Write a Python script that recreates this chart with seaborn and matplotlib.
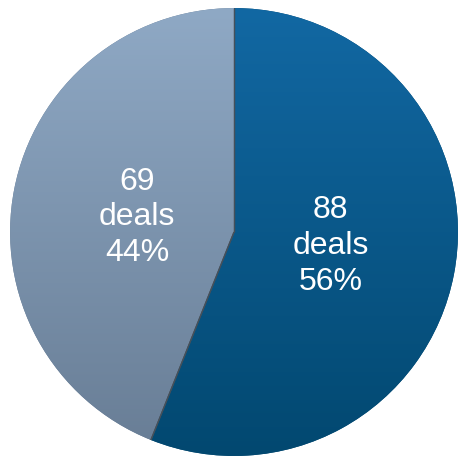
import numpy as np
import matplotlib
matplotlib.use("Agg")
import matplotlib.pyplot as plt
import seaborn as sns
from matplotlib.colors import LinearSegmentedColormap

sns.set_theme(style="white")
plt.rcParams["font.family"] = ["Liberation Sans", "DejaVu Sans"]

# Deal counts per segment
segments = ["Segment A", "Segment B"]
deals = [88, 69]
shares = [56, 44]

# top / bottom shades of each slice
top_colors = ["#1268a3", "#8fa9c5"]
bottom_colors = ["#024870", "#687d95"]

fig = plt.figure(figsize=(4.6, 4.62), dpi=100)
ax = fig.add_axes([0, 0, 1, 1])

wedges, _ = ax.pie(
    deals,
    startangle=90,
    counterclock=False,
    colors=bottom_colors,
    radius=1.0,
    wedgeprops=dict(edgecolor="none", linewidth=0),
)

# vertical shading inside each slice
grad = np.linspace(0, 1, 256).reshape(-1, 1)
for w, ct, cb in zip(wedges, top_colors, bottom_colors):
    cmap = LinearSegmentedColormap.from_list("shade", [ct, cb])
    im = ax.imshow(grad, cmap=cmap, extent=[-1, 1, -1, 1], aspect="auto",
                   origin="upper", zorder=w.get_zorder() + 0.1)
    im.set_clip_path(w)

# radial dividers between slices
total = sum(deals)
for w in wedges:
    for ang in (w.theta1, w.theta2):
        a = np.deg2rad(ang)
        ax.plot([0, np.cos(a)], [0, np.sin(a)], color="#46505a",
                linewidth=0.9, zorder=5, solid_capstyle="butt")

# labels placed along each slice's mid angle, with a small vertical nudge
label_dy = [0.02, -0.018]
start = 90.0
for n, pct, dy in zip(deals, shares, label_dy):
    sweep = 360.0 * n / total
    mid = np.deg2rad(start - sweep / 2)
    start -= sweep
    r = 0.44
    ax.text(r * np.cos(mid), r * np.sin(mid) + dy, f"{n}\ndeals\n{pct}%",
            ha="center", va="center", color="white", fontsize=23,
            linespacing=1.25, zorder=10)

ax.set_xlim(-1.045, 1.009)
ax.set_ylim(-1.027, 1.036)
ax.set_aspect("equal")
ax.axis("off")

fig.savefig("out.png", dpi=100, facecolor="white")
